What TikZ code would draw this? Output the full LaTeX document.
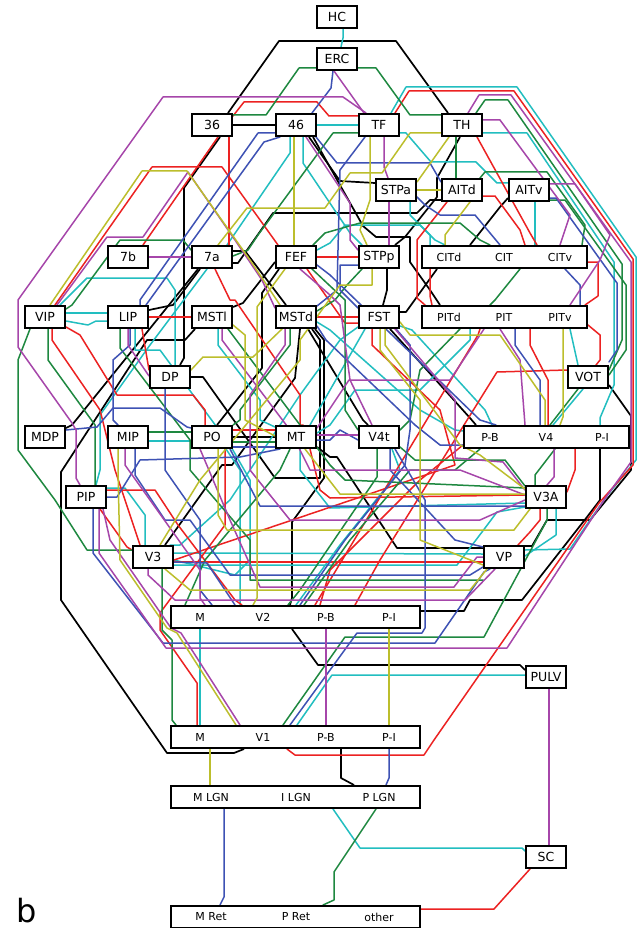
\documentclass[tikz,border=0pt]{standalone}
\usepackage{fontspec}
\setmainfont{DejaVu Sans}
\definecolor{cR}{RGB}{236,34,34}
\definecolor{cG}{RGB}{30,136,64}
\definecolor{cB}{RGB}{62,82,180}
\definecolor{cC}{RGB}{34,190,192}
\definecolor{cP}{RGB}{166,70,170}
\definecolor{cY}{RGB}{188,190,44}
\pgfdeclarelayer{back}
\pgfdeclarelayer{bg}
\pgfsetlayers{back,bg,main}
\tikzset{
 ln/.style={line width=1.5pt,line join=round,line cap=round},
 lr/.style={ln,draw=cR}, lg/.style={ln,draw=cG}, lb/.style={ln,draw=cB},
 lc/.style={ln,draw=cC}, lp/.style={ln,draw=cP}, ly/.style={ln,draw=cY},
 lk/.style={line width=1.7pt,line join=round,draw=black},
 box/.style={draw,line width=2pt,fill=white,minimum width=40pt,minimum height=22pt,inner sep=0pt,font=\fontsize{12.5}{12.5}\selectfont},
 wide/.style={box,minimum width=165pt},
 wider/.style={box,minimum width=249pt},
 lab/.style={inner sep=0pt,font=\fontsize{11}{11}\selectfont}
}
\begin{document}
\begin{tikzpicture}[x=1pt,y=-1pt]
\useasboundingbox (0,0) rectangle (637,928);
\begin{pgfonlayer}{back}
\fill[white] (0,0) rectangle (637,928);
\end{pgfonlayer}
% nodes
\node[box] (hc) at (337,17) {HC};
\node[box] (erc) at (337,59) {ERC};
\node[box] (a36) at (212,125) {36};
\node[box] (a46) at (296,125) {46};
\node[box] (tf) at (379,125) {TF};
\node[box] (th) at (462,125) {TH};
\node[box] (stpa) at (396,190) {STPa};
\node[box] (aitd) at (462,190) {AITd};
\node[box] (aitv) at (529,190) {AITv};
\node[box] (a7b) at (128,257) {7b};
\node[box] (a7a) at (212,257) {7a};
\node[box] (fef) at (296,257) {FEF};
\node[box] (stpp) at (379,257) {STPp};
\node[wide] (cit) at (504.5,257) {};
\node[lab] (citd) at (449,257) {CITd};
\node[lab] (citc) at (504,257) {CIT};
\node[lab] (citv) at (560,257) {CITv};
\node[box] (vip) at (45,317) {VIP};
\node[box] (lip) at (128,317) {LIP};
\node[box] (mstl) at (212,317) {MSTl};
\node[box] (mstd) at (296,317) {MSTd};
\node[box] (fst) at (379,317) {FST};
\node[wide] (pit) at (504.5,317) {};
\node[lab] (pitd) at (449,317) {PITd};
\node[lab] (pitc) at (504,317) {PIT};
\node[lab] (pitv) at (560,317) {PITv};
\node[box] (dp) at (170,377) {DP};
\node[box] (vot) at (588,377) {VOT};
\node[box] (mdp) at (45,437) {MDP};
\node[box] (mip) at (128,437) {MIP};
\node[box] (po) at (212,437) {PO};
\node[box] (mt) at (296,437) {MT};
\node[box] (vft) at (379,437) {V4t};
\node[wide] (vfour) at (546.5,437) {};
\node[lab] (vfpb) at (490,437) {P-B};
\node[lab] (vfc) at (546,437) {V4};
\node[lab] (vfpi) at (602,437) {P-I};
\node[box] (pip) at (86,497) {PIP};
\node[box] (vtha) at (546,497) {V3A};
\node[box] (vthree) at (153,557) {V3};
\node[box] (vp) at (504,557) {VP};
\node[wider] (vtwo) at (295.5,617) {};
\node[lab] (vtm) at (200,617) {M};
\node[lab] (vtc) at (263,617) {V2};
\node[lab] (vtpb) at (326,617) {P-B};
\node[lab] (vtpi) at (389,617) {P-I};
\node[box] (pulv) at (546,677) {PULV};
\node[wider] (vone) at (295.5,737) {};
\node[lab] (vom) at (200,737) {M};
\node[lab] (voc) at (263,737) {V1};
\node[lab] (vopb) at (326,737) {P-B};
\node[lab] (vopi) at (389,737) {P-I};
\node[wider] (lgn) at (295.5,797) {};
\node[lab] (lgnm) at (211,797) {M LGN};
\node[lab] (lgni) at (296,797) {I LGN};
\node[lab] (lgnp) at (379,797) {P LGN};
\node[box] (sc) at (546,857) {SC};
\node[wider] (ret) at (295.5,917) {};
\node[lab] (retm) at (211,917) {M Ret};
\node[lab] (retp) at (296,917) {P Ret};
\node[lab] (reto) at (379,917) {other};
\node[anchor=base west,inner sep=0pt,font=\fontsize{32}{32}\selectfont] (blab) at (16,922) {b};
\begin{pgfonlayer}{bg}
% ---------------- black
\draw[lk] (a36.north -| 228,0)--(279,41)--(396,41)--(th.north -| 448,0);
\draw[lk] (a36.east)--(a46.west);
\draw[lk] (a36.south -| 220,0)--(184,188)--(184,358)--(dp.north -| 180,0);
\draw[lk] (a46.south -| 309,0)--(340,181)--(stpa.west |- 0,183);
\draw[lk] (a46.south -| 313,0)--(363,226)--(376,237)--(410,237)--(410,262)--(430,290)--(pit.north -| 440,0);
\draw[lk] (th.south -| 460,0)--(437,178)--(437,197)--(405,237)--(stpp.north -| 395,0);
\draw[lk] (a7a.east |- 0,263)--(238,263)--(273,213)--(417,213)--(430,200)--(aitd.west |- 0,200);
\draw[lk] (aitv.west |- 0,198)--(500,207)--(cit.north -| 470,0);
\draw[lk] (stpp.south -| 387,0)--(387,290)--(fst.north -| 383,0);
\draw[lk] (fst.east |- 0,312)--(406,312)--(cit.south -| 437,0);
\draw[lk] (fst.south -| 390,0)--(470,418)--(vfour.north -| 476,0);
\draw[lk] (mt.east |- 0,447)--(330,457)--(337,457)--(397,548)--(vp.west |- 0,548);
\draw[lk] (vthree.north -| 165,0)--(222,465)--(232,465)--(295,378)--(mstd.south -| 300,0);
\draw[lk] (dp.east |- 0,377)--(203,377)--(275,478)--(320,478)--(320,340)--(mstd.south -| 312,0);
\draw[lk] (vtwo.north -| 290,0)--(292,598)--(292,522)--(324,478)--(324,340)--(mstd.south -| 315,0);
\draw[lk] (mdp.east |- 0,428)--(72,425)--(a7a.south -| 198,0);
\draw[lk] (vone.south -| 244,0)--(234,753)--(167,753)--(61,600)--(61,472)--(147,340)--(185,340)--(mstl.south -| 195,0);
\draw[lk] (po.east)--(mt.west);
\draw[lk] (po.north -| 217,0)--(262,368)--(262,293)--(fef.south -| 279,0);
\draw[lk] (mstl.east |- 0,307)--(243,303)--(fef.west |- 0,262);
\draw[lk] (a7a.east |- 0,251)--(245,251)--(mstd.north -| 286,0);
\draw[lk] (lip.east |- 0,310)--(173,305)--(a7a.south -| 200,0);
\draw[lk] (mstd.south -| 308,0)--(363,420)--(vft.north -| 368,0);
\draw[lk] (vtwo.south -| 292,0)--(318,665)--(520,665)--(pulv.west |- 0,670);
\draw[lk] (vtwo.east |- 0,611)--(464,611)--(470,600)--(522,600)--(587,517)--(600,500)--(vfour.south -| 600,0);
\draw[lk] (vot.east |- 0,385)--(631,416)--(631,470)--(590,520)--(547,520)--(532,546)--(vp.east |- 0,546);
\draw[lk] (vone.south -| 341,0)--(341,778)--(lgn.north -| 354,0);
% ---------------- cyan
\draw[lc] (hc.south -| 343,0)--(343,38)--(erc.north -| 341,0);
\draw[lc] (tf.east |- 0,133)--(406,133)--(431,162)--(476,162)--(497,183)--(aitv.west |- 0,183);
\draw[lc] (tf.north -| 391,0)--(406,87)--(517,87)--(636,257)--(636,460)--(606,497)--(570,549)--(vp.east |- 0,550);
\draw[lc] (th.east |- 0,133)--(527,133)--(614,262)--(614,385)--(600,418)--(vfour.north -| 600,0);
\draw[lc] (a46.south -| 290,0)--(290,153)--(a7a.north -| 227,0);
\draw[lc] (a46.south -| 303,0)--(303,163)--(350,233)--(stpp.north -| 362,0);
\draw[lc] (a46.east)--(tf.west);
\draw[lc] (vip.east |- 0,313)--(lip.west |- 0,313);
\draw[lc] (vip.east |- 0,321)--(88,325)--(96,321)--(lip.west |- 0,321);
\draw[lc] (mip.east |- 0,441)--(po.west |- 0,441);
\draw[lc] (vthree.east |- 0,553)--(vp.west |- 0,554);
\draw[lc] (vtwo.south -| 200,0)--(vone.north -| 200,0);
\draw[lc] (pulv.west |- 0,675)--(332,675)--(vone.north -| 297,0);
\draw[lc] (lgn.south -| 333,0)--(360,848)--(522,848)--(sc.west |- 0,851);
\draw[lc] (vip.north -| 60,0)--(87,278)--(167,278)--(175,290)--(dp.north -| 175,0);
\draw[lc] (fst.south -| 365,0)--(mt.north -| 310,0);
\draw[lc] (vot.south -| 583,0)--(vfour.north -| 553,0);
\draw[lc] (vthree.east |- 0,565)--(457,565)--(482,532)--(497,512)--(vtha.west |- 0,507);
\draw[lc] (a7a.south -| 207,0)--(150,345)--(100,415)--(100,470)--(pip.north -| 96,0);
\draw[lc] (po.south -| 226,0)--(240,470)--(vtwo.north -| 240,0);
\draw[lc] (pit.south -| 570,0)--(vot.north -| 578,0);
\draw[lc] (mstd.east |- 0,322)--(330,330)--(420,410)--(455,430)--(vfour.west |- 0,431);
\draw[lc] (fef.east |- 0,250)--(330,243)--(345,225)--(420,225)--(435,240)--(cit.north -| 445,0);
\draw[lc] (mt.south -| 300,0)--(300,470)--(330,508)--(vtha.west |- 0,503);
\draw[lc] (mstl.south -| 218,0)--(218,345)--(260,400)--(260,420)--(mt.west |- 0,427);
\draw[lc] (fst.west |- 0,327)--(340,340)--(300,395)--(230,500)--(180,545)--(vthree.north -| 170,0);
\draw[lc] (vtwo.north -| 296,0)--(340,545)--(400,470)--(vft.south -| 392,0);
\draw[lc] (vtha.south -| 556,0)--(556,535)--(vp.east |- 0,556);
\draw[lc] (lip.south -| 135,0)--(135,350)--(160,350)--(230,445)--(250,480)--(250,560)--(235,575)--(vthree.east |- 0,560);
\draw[lc] (mt.east |- 0,433)--(330,425)--(355,390)--(420,390)--(470,340)--(pit.south -| 470,0);
\draw[lc] (aitv.south -| 535,0)--(cit.north -| 535,0);
\draw[lc] (fst.east |- 0,326)--(412,330)--(485,410)--(vfour.north -| 492,0);
\draw[lc] (pip.east |- 0,488)--(125,488)--(145,515)--(vthree.north -| 145,0);
\draw[lc] (stpa.south -| 410,0)--(410,215)--(430,235)--(cit.north -| 430,0);
% ---------------- red
\draw[lr] (a36.east |- 0,116)--(244,102)--(317,102)--(329,116)--(tf.west |- 0,116);
\draw[lr] (a36.south -| 218,0)--(a7b.north -| 143,0);
\draw[lr] (a36.south -| 229,0)--(a7a.north -| 229,0);
\draw[lr] (vip.north -| 55,0)--(152,167)--(222,167)--(fef.north -| 278,0);
\draw[lr] (vip.east |- 0,327)--(80,335)--(117,395)--(193,395)--(205,410)--(po.north -| 205,0);
\draw[lr] (lip.east |- 0,317)--(mstl.west |- 0,317);
\draw[lr] (mstd.east |- 0,317)--(fst.west |- 0,317);
\draw[lr] (fef.east |- 0,257)--(stpp.west |- 0,257);
\draw[lr] (th.south -| 477,0)--(530,233)--(cit.north -| 537,0);
\draw[lr] (aitd.south -| 447,0)--(417,240)--(417,298)--(pit.north -| 425,0);
\draw[lr] (tf.north -| 395,0)--(409,91)--(514,91)--(633,259)--(633,465)--(599,503)--(434,740)--(424,755)--(295,755)--(vone.south -| 287,0);
\draw[lr] (vot.west |- 0,370)--(497,372)--(380,560)--(vtwo.north -| 355,0);
\draw[lr] (vthree.east |- 0,562)--(vp.west |- 0,562);
\draw[lr] (pip.south -| 100,0)--(127,547)--(vthree.west |- 0,550);
\draw[lr] (pip.east |- 0,490)--(155,490)--(178,525)--(235,600)--(vtwo.north -| 242,0);
\draw[lr] (vone.north -| 197,0)--(197,683)--(160,630)--(160,613)--(225,525)--(po.south -| 225,0);
\draw[lr] (po.east |- 0,430)--(mt.west |- 0,430);
\draw[lr] (fef.south -| 307,0)--(345,323)--(fst.west |- 0,323);
\draw[lr] (vtwo.north -| 315,0)--(478,335)--(pit.south -| 480,0);
\draw[lr] (mt.south -| 310,0)--(320,490)--(330,498)--(vtha.west |- 0,495);
\draw[lr] (fst.south -| 372,0)--(372,345)--(440,410)--(455,465)--(vthree.east |- 0,560);
\draw[lr] (pit.east |- 0,325)--(600,335)--(600,360)--(vot.north -| 596,0);
\draw[lr] (ret.east |- 0,909)--(494,909)--(sc.south -| 530,0);
\draw[lr] (vfour.south -| 575,0)--(575,470)--(vtha.east |- 0,492);
\draw[lr] (a7a.south -| 215,0)--(230,300)--(235,300)--(300,395)--(300,425)--(mt.north -| 303,0);
\draw[lr] (vip.south -| 52,0)--(52,340)--(100,410)--(115,470)--(vthree.north -| 140,0);
\draw[lr] (cit.south -| 430,0)--(430,296)--(pit.north -| 432,0);
\draw[lr] (vfour.west |- 0,445)--(420,480)--(330,570)--(vtwo.north -| 320,0);
\draw[lr] (lip.south -| 142,0)--(dp.west |- 0,370);
\draw[lr] (pit.south -| 530,0)--(530,345)--(548,380)--(vfour.north -| 548,0);
\draw[lr] (vtha.south -| 540,0)--(540,520)--(530,532)--(vp.north -| 518,0);
\draw[lr] (aitd.east |- 0,196)--(495,196)--(520,230)--(cit.north -| 525,0);
\draw[lr] (cit.east |- 0,262)--(598,262)--(598,296)--(pit.north -| 585,0);
% ---------------- green
\draw[lg] (a36.east |- 0,115)--(266,115)--(299,68)--(erc.west |- 0,68);
\draw[lg] (erc.east |- 0,68)--(376,68)--(410,115)--(th.west |- 0,115);
\draw[lg] (tf.west |- 0,133)--(333,133)--(258,235)--(248,250)--(a7a.east |- 0,256);
\draw[lg] (th.south -| 456,0)--(aitd.north -| 456,0);
\draw[lg] (th.north -| 476,0)--(485,100)--(508,100)--(622,264)--(622,340)--(vot.east |- 0,370);
\draw[lg] (vip.south -| 30,0)--(18,360)--(18,450)--(55,500)--(87,550)--(vthree.west |- 0,550);
\draw[lg] (vip.east |- 0,309)--(72,305)--(120,240)--(183,240)--(a7a.west |- 0,250);
\draw[lg] (mip.east |- 0,432)--(po.west |- 0,432);
\draw[lg] (po.east |- 0,442)--(mt.west |- 0,442);
\draw[lg] (vft.south -| 377,0)--(377,477)--(300,590)--(vtwo.north -| 288,0);
\draw[lg] (vone.north -| 176,0)--(172,720)--(172,640)--(162,630)--(162,578)--(vthree.south -| 162,0);
\draw[lg] (vone.north -| 283,0)--(345,637)--(484,637)--(547,520)--(vtha.south -| 547,0);
\draw[lg] (vot.south -| 578,0)--(vfour.north -| 550,0);
\draw[lg] (fef.north -| 313,0)--(325,233)--(360,223)--(460,223)--(480,240)--(cit.north -| 490,0);
\draw[lg] (aitd.north -| 480,0)--(485,172)--(547,172)--(585,225)--(cit.north -| 582,0);
\draw[lg] (mstl.south -| 228,0)--(240,345)--(330,465)--(345,480)--(vtha.west |- 0,488);
\draw[lg] (lgn.south -| 376,0)--(334,872)--(334,900)--(ret.north -| 323,0);
\draw[lg] (vfour.south -| 555,0)--(535,475)--(vtha.north -| 535,0);
\draw[lg] (fef.south -| 312,0)--(345,300)--(345,410)--(vft.west |- 0,430);
\draw[lg] (mstd.east |- 0,311)--(335,300)--(347,285)--(stpp.south -| 362,0);
\draw[lg] (lip.south -| 120,0)--(120,348)--(190,440)--(190,470)--(250,540)--(250,580)--(vp.west |- 0,580);
\draw[lg] (mt.south -| 290,0)--(280,470)--(205,560)--(vtwo.north -| 185,0);
\draw[lg] (mstd.south -| 290,0)--(290,345)--(240,410)--(240,420)--(po.east |- 0,425);
\draw[lg] (vtwo.north -| 304,0)--(350,540)--(410,470)--(455,470)--(vfour.south -| 480,0);
\draw[lg] (vip.south -| 48,0)--(48,360)--(95,425)--(95,475)--(pip.north -| 95,0);
\draw[lg] (vft.east |- 0,447)--(415,460)--(505,460)--(vtha.west |- 0,486);
\draw[lg] (cit.south -| 520,0)--(495,300)--(pit.north -| 490,0);
\draw[lg] (pit.south -| 460,0)--(420,370)--(410,420)--(vft.east |- 0,430);
\draw[lg] (aitv.east |- 0,200)--(565,200)--(626,285)--(626,350)--(vot.east |- 0,375);
% ---------------- blue
\draw[lb] (erc.south -| 333,0)--(331,88)--(a46.north -| 312,0);
\draw[lb] (a46.west |- 0,133)--(258,133)--(140,300)--(lip.north -| 140,0);
\draw[lb] (a46.south -| 280,0)--(264,142)--(lip.north -| 146,0);
\draw[lb] (a46.south -| 316,0)--(337,163)--(430,163)--(aitd.west |- 0,182);
\draw[lb] (mdp.east |- 0,430)--(97,427)--(113,408)--(160,408)--(187,427)--(po.west |- 0,428);
\draw[lb] (pip.east |- 0,497)--(117,497)--(140,460)--(240,457)--(mt.south -| 280,0);
\draw[lb] (pip.south -| 93,0)--(93,553)--(163,643)--(435,643)--(484,572)--(vp.south -| 490,0);
\draw[lb] (vone.north -| 290,0)--(357,633)--(422,633)--(425,628)--(425,500)--(vft.south -| 395,0);
\draw[lb] (vone.south -| 389,0)--(389,778)--(lgn.north -| 386,0);
\draw[lb] (lgn.south -| 224,0)--(224,897)--(ret.north -| 220,0);
\draw[lb] (po.east |- 0,447)--(mt.west |- 0,447);
\draw[lb] (tf.south -| 365,0)--(340,170)--(337,290)--(mstd.east |- 0,306);
\draw[lb] (mstd.east |- 0,326)--(326,340)--(415,425)--(440,445)--(vfour.west |- 0,445);
\draw[lb] (aitv.east |- 0,198)--(556,198)--(617,283)--(617,350)--(vot.east |- 0,362);
\draw[lb] (vthree.east |- 0,562)--(207,563)--(vtwo.north -| 235,0);
\draw[lb] (cit.south -| 565,0)--(580,285)--(pit.north -| 580,0);
\draw[lb] (dp.south -| 165,0)--(165,470)--(200,520)--(200,590)--(vtwo.north -| 212,0);
\draw[lb] (stpp.west |- 0,265)--(340,265)--(340,290)--(fst.west |- 0,308);
\draw[lb] (mt.east |- 0,440)--(330,440)--(340,430)--(vft.west |- 0,440);
\draw[lb] (fef.east |- 0,265)--(330,275)--(480,420)--(vfour.north -| 496,0);
\draw[lb] (vtwo.north -| 300,0)--(345,540)--(405,465)--(410,430)--(410,345)--(fst.south -| 396,0);
\draw[lb] (po.south -| 230,0)--(260,506)--(vtha.west |- 0,506);
\draw[lb] (mip.south -| 135,0)--(135,475)--(165,520)--(190,520)--(230,575)--(470,575)--(vp.west |- 0,567);
\draw[lb] (lip.south -| 130,0)--(130,345)--(113,360)--(113,420)--(mip.north -| 118,0);
\draw[lb] (pit.south -| 515,0)--(515,345)--(540,380)--(vfour.north -| 540,0);
\draw[lb] (vft.south -| 390,0)--(390,470)--(455,540)--(vp.west |- 0,547);
\draw[lb] (stpa.east |- 0,197)--(425,205)--(440,215)--(475,215)--(cit.north -| 500,0);
% ---------------- purple
\draw[lp] (erc.south -| 334,0)--(tf.north -| 364,0);
\draw[lp] (tf.north -| 366,0)--(343,97)--(163,97)--(18,300)--(18,347)--(72,423)--(76,430)--(76,478)--(pip.north -| 80,0);
\draw[lp] (a7b.east)--(a7a.west);
\draw[lp] (th.north -| 468,0)--(479,95)--(511,95)--(631,262)--(631,462)--(604,500)--(507,648)--(166,648)--(99,553)--(pip.south -| 99,0);
\draw[lp] (tf.south -| 384,0)--(384,167)--(stpa.north -| 388,0);
\draw[lp] (stpa.south -| 389,0)--(stpp.north -| 389,0);
\draw[lp] (vip.north -| 57,0)--(107,237)--(143,237)--(188,172)--(235,240)--(262,280)--(mstd.west |- 0,308);
\draw[lp] (pit.south -| 484,0)--(450,380)--(349,380)--(mt.east |- 0,428);
\draw[lp] (vtwo.south -| 326,0)--(vone.north -| 326,0);
\draw[lp] (pulv.south -| 549,0)--(sc.north -| 549,0);
\draw[lp] (vfour.south -| 554,0)--(554,477)--(vtha.north -| 547,0);
\draw[lp] (vone.north -| 240,0)--(181,633)--(171,628)--(110,540)--(pip.south -| 103,0);
\draw[lp] (po.south -| 200,0)--(230,520)--(260,587)--(454,587)--(477,557)--(vp.west |- 0,557);
\draw[lp] (a46.south -| 306,0)--(350,203)--(350,240)--(stpp.west |- 0,250);
\draw[lp] (fst.south -| 395,0)--(455,400)--(455,458)--(503,462)--(vtha.west |- 0,490);
\draw[lp] (aitv.east |- 0,184)--(575,184)--(610,235)--(600,260)--(pit.north -| 570,0);
\draw[lp] (mstl.south -| 222,0)--(222,340)--(290,430)--(310,470)--(460,470)--(vtha.west |- 0,495);
\draw[lp] (lip.south -| 128,0)--(128,345)--(dp.west |- 0,376);
\draw[lp] (fef.south -| 300,0)--(330,295)--(340,305)--(350,380)--(vft.north -| 372,0);
\draw[lp] (vthree.south -| 148,0)--(148,575)--(175,600)--(465,600)--(vp.south -| 495,0);
\draw[lp] (mip.south -| 125,0)--(125,465)--(200,570)--(200,598)--(vtwo.north -| 205,0);
\draw[lp] (mt.east |- 0,435)--(vft.west |- 0,435);
\draw[lp] (mstd.south -| 285,0)--(285,345)--(250,395)--(250,470)--(290,520)--(480,520)--(vtha.west |- 0,500);
\draw[lp] (pit.south -| 500,0)--(520,360)--(vfour.north -| 525,0);
\draw[lp] (th.east |- 0,120)--(500,120)--(570,215)--(cit.north -| 560,0);
% ---------------- olive
\draw[ly] (a7a.north -| 218,0)--(247,208)--(325,208)--(350,173)--(382,173)--(410,133)--(th.west |- 0,133);
\draw[ly] (th.south -| 449,0)--(stpa.east |- 0,182);
\draw[ly] (stpa.east |- 0,190)--(aitd.west |- 0,190);
\draw[ly] (a46.south -| 294,0)--(fef.north -| 294,0);
\draw[ly] (vip.north -| 50,0)--(142,171)--(187,171)--(250,260)--(mstd.north -| 280,0);
\draw[ly] (vone.south -| 210,0)--(lgn.north -| 210,0);
\draw[ly] (vtwo.south -| 389,0)--(vone.north -| 389,0);
\draw[ly] (vone.north -| 236,0)--(177,633)--(167,628)--(120,560)--(118,470)--(mip.south -| 118,0);
\draw[ly] (po.south -| 218,0)--(218,515)--(227,530)--(514,530)--(vtha.south -| 530,0);
\draw[ly] (vthree.south -| 165,0)--(190,590)--(470,590)--(vp.south -| 487,0);
\draw[ly] (fef.south -| 285,0)--(257,307)--(257,598)--(vtwo.north -| 253,0);
\draw[ly] (pit.south -| 563,0)--(563,417)--(vfour.north -| 560,0);
\draw[ly] (dp.east |- 0,370)--(203,357)--(253,357)--(mstd.south -| 282,0);
\draw[ly] (aitd.south -| 470,0)--(445,235)--(cit.north -| 445,0);
\draw[ly] (fst.east |- 0,322)--(410,335)--(500,335)--(545,400)--(vfour.north -| 545,0);
\draw[ly] (stpp.south -| 372,0)--(372,285)--(340,285)--(300,340)--(300,360)--(200,480)--(vthree.north -| 160,0);
\draw[ly] (mstl.east |- 0,325)--(245,335)--(245,420)--(mt.west |- 0,436);
\draw[ly] (fst.south -| 380,0)--(380,350)--(420,400)--(420,540)--(vp.west |- 0,565);
\draw[ly] (mt.south -| 305,0)--(340,494)--(vtha.west |- 0,494);
\draw[ly] (fst.south -| 385,0)--(385,345)--(460,445)--(480,455)--(vtha.west |- 0,489);
\draw[ly] (tf.south -| 370,0)--(370,200)--(360,230)--(stpp.north -| 367,0);
\end{pgfonlayer}
\end{tikzpicture}
\end{document}
